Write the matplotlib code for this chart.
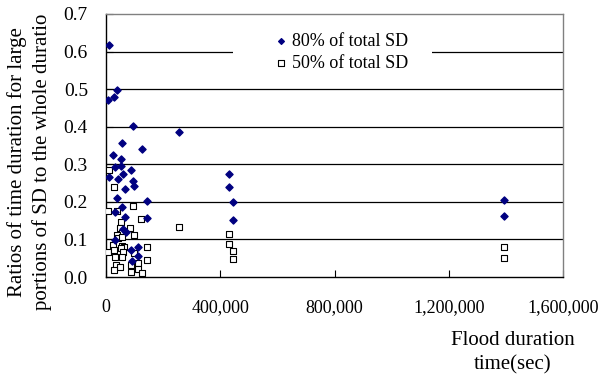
import matplotlib
matplotlib.use("Agg")
import matplotlib.pyplot as plt
from matplotlib.patches import Rectangle
from matplotlib.ticker import FuncFormatter

plt.rcParams['font.family'] = ['Liberation Serif', 'DejaVu Serif']

# flood duration (sec) and ratios for 80% of total SD
dur_80 = [12000, 8000, 29000, 37000, 96000, 256000, 55000, 125000,
          23000, 51000, 31000, 51000, 86000, 58000, 43000, 9000,
          96000, 99000, 65000, 37000, 145000, 55000, 31000, 65000,
          145000, 61000, 69000, 31000, 113000, 89000, 113000, 90000,
          432000, 432000, 446000, 446000, 1393000, 1393000]
ratio_80 = [0.617, 0.471, 0.478, 0.499, 0.402, 0.385, 0.357, 0.342,
            0.324, 0.314, 0.293, 0.296, 0.285, 0.274, 0.261, 0.265,
            0.256, 0.243, 0.233, 0.209, 0.201, 0.185, 0.172, 0.161,
            0.157, 0.127, 0.119, 0.098, 0.079, 0.072, 0.057, 0.043,
            0.275, 0.240, 0.200, 0.152, 0.205, 0.162]

# flood duration (sec) and ratios for 50% of total SD
dur_50 = [10000, 29000, 8000, 37000, 95000, 123000, 51000, 49000,
          84000, 55000, 98000, 254000, 37000, 41000, 57000, 26000,
          55000, 64000, 142000, 8000, 28000, 51000, 61000, 98000,
          31000, 55000, 142000, 35000, 49000, 28000, 86000, 111000,
          87000, 111000, 125000,
          430000, 430000, 443000, 443000, 1393000, 1393000]
ratio_50 = [0.286, 0.240, 0.176, 0.176, 0.190, 0.154, 0.147, 0.131,
            0.131, 0.116, 0.111, 0.134, 0.112, 0.105, 0.107, 0.085,
            0.082, 0.081, 0.079, 0.067, 0.072, 0.076, 0.067, 0.063,
            0.054, 0.054, 0.045, 0.032, 0.026, 0.019, 0.032, 0.036,
            0.014, 0.021, 0.011,
            0.114, 0.088, 0.069, 0.048, 0.080, 0.050]

x_ticks = [0, 400000, 800000, 1200000, 1600000]
y_ticks = [0.0, 0.1, 0.2, 0.3, 0.4, 0.5, 0.6, 0.7]

fig = plt.figure(figsize=(5.98, 3.79), dpi=100)
ax = fig.add_axes([106 / 598, 1 - 277 / 379, 457 / 598, 263 / 379])

for y in y_ticks[1:-1]:
    ax.axhline(y, color='black', lw=0.9, zorder=1)

# white box behind the legend hides the 0.6 gridline
ax.add_patch(Rectangle((0.278, 0.80), 0.435, 0.11, transform=ax.transAxes,
                       facecolor='white', edgecolor='none', zorder=2))

ax.scatter(dur_80, ratio_80, marker='D', s=13, color='#000080',
           edgecolors='#000080', zorder=4, label='80% of total SD')
ax.scatter(dur_50, ratio_50, marker='s', s=22, facecolors='white',
           edgecolors='black', linewidths=0.8, zorder=3,
           label='50% of total SD')

ax.set_xlim(0, 1600000)
ax.set_ylim(0, 0.7)
ax.set_xticks(x_ticks)
ax.set_yticks(y_ticks)
ax.xaxis.set_major_formatter(FuncFormatter(lambda v, p: f"{int(v):,}"))
ax.yaxis.set_major_formatter(FuncFormatter(lambda v, p: f"{v:.1f}"))
ax.tick_params(axis='x', direction='in', length=5, pad=16, labelsize=13)
ax.tick_params(axis='y', direction='in', length=5, pad=13, labelsize=14)

for s in ['left', 'bottom']:
    ax.spines[s].set_color('black')
    ax.spines[s].set_linewidth(1.0)
for s in ['top', 'right']:
    ax.spines[s].set_color('#808080')
    ax.spines[s].set_linewidth(1.0)

ax.legend(loc='center left', bbox_to_anchor=((259 - 106) / 457, 0.854),
          frameon=False, fontsize=13, handlelength=0.6,
          handletextpad=0.35, labelspacing=0.25, borderpad=0.4,
          scatterpoints=1, markerscale=0.8)

fig.text(29.5 / 598, 1 - 162 / 379,
         "Ratios of time duration for large\nportions of SD to the whole duratio",
         rotation=90, ha='center', va='center', fontsize=15, linespacing=1.4)
fig.text(513 / 598, 1 - 331 / 379, "Flood duration\ntime(sec)",
         ha='center', va='top', fontsize=15, linespacing=1.35)

fig.savefig('out.png', dpi=100)
